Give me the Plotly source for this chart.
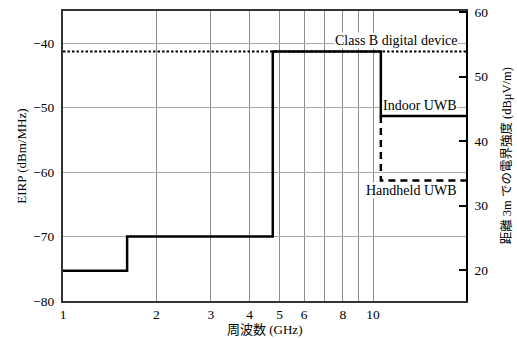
import plotly.graph_objects as go

# Band edges (GHz) and limit levels (EIRP, dBm/MHz)
band_edges_ghz = [1, 1.61, 4.75, 10.6, 20]
indoor_eirp = [-75.3, -70, -41.3, -51.3, -51.3]

handheld_freq_ghz = [10.6, 10.6, 20]
handheld_eirp = [-51.3, -61.3, -61.3]

classb_freq_ghz = [1, 20]
classb_eirp = [-41.3, -41.3]

x_tick_vals = [1, 2, 3, 4, 5, 6, 7, 8, 9, 10]
x_tick_text = ["1", "2", "3", "4", "5", "6", "", "8", "", "10"]
left_tick_vals = [-80, -70, -60, -50, -40]
right_tick_vals = [20, 30, 40, 50, 60]

# Field strength at 3 m: E (dBuV/m) = EIRP (dBm) + 95.2
FIELD_OFFSET = 95.2
EIRP_RANGE = [-80, -35]

SERIF = "Liberation Serif"
CJK = "Liberation Serif, Noto Sans CJK JP"

fig = go.Figure()

fig.add_trace(go.Scatter(
    x=classb_freq_ghz, y=classb_eirp, mode="lines",
    line=dict(color="black", width=2, dash="2.5px,2px"),
    showlegend=False, hoverinfo="skip"))

fig.add_trace(go.Scatter(
    x=handheld_freq_ghz, y=handheld_eirp, mode="lines",
    line=dict(color="black", width=2.5, dash="7px,5px"),
    showlegend=False, hoverinfo="skip"))

fig.add_trace(go.Scatter(
    x=band_edges_ghz, y=indoor_eirp, mode="lines",
    line=dict(color="black", width=2.5, shape="hv"),
    showlegend=False, hoverinfo="skip"))

# invisible trace to activate the right-hand axis
fig.add_trace(go.Scatter(
    x=[1], y=[40], yaxis="y2", mode="markers",
    marker=dict(opacity=0), showlegend=False, hoverinfo="skip"))

labels = [
    ("Class B digital device", -39.6),
    ("Indoor UWB", -49.6),
    ("Handheld UWB", -62.9),
]
for text, yv in labels:
    fig.add_annotation(
        x=0.98, xref="paper", y=yv, yref="y", text=text,
        xanchor="right", yanchor="middle", showarrow=False,
        bgcolor="white", borderpad=0,
        font=dict(family=SERIF, size=14, color="black"))

# axis titles placed as annotations
fig.add_annotation(
    x=-0.105, xref="paper", y=0.5, yref="paper", text="EIRP (dBm/MHz)",
    textangle=-90, showarrow=False, xanchor="center", yanchor="middle",
    font=dict(family=SERIF, size=13, color="black"))
fig.add_annotation(
    x=1.1, xref="paper", y=0.5, yref="paper", text="距離 3m での電界強度 (dBμV/m)",
    textangle=-90, showarrow=False, xanchor="center", yanchor="middle",
    font=dict(family=CJK, size=12.5, color="black"))
fig.add_annotation(
    x=0.5, xref="paper", y=-0.098, yref="paper", text="周波数 (GHz)",
    showarrow=False, xanchor="center", yanchor="middle",
    font=dict(family=CJK, size=13, color="black"))

fig.update_layout(
    width=517, height=338,
    margin=dict(l=63, r=51, t=11, b=37, autoexpand=False),
    paper_bgcolor="white", plot_bgcolor="white",
    font=dict(family=SERIF, size=13.5, color="black"),
    xaxis=dict(
        type="log", range=[0, 1.3], automargin=False,
        tickvals=x_tick_vals, ticktext=x_tick_text,
        showgrid=True, gridcolor="#8c8c8c", gridwidth=1,
        showline=True, linecolor="#333", linewidth=2, mirror=True,
        ticks="", zeroline=False,
    ),
    yaxis=dict(
        range=EIRP_RANGE, tickvals=left_tick_vals, automargin=False,
        showgrid=True, gridcolor="#aaa", gridwidth=1,
        showline=True, linecolor="#333", linewidth=2,
        ticks="", zeroline=False, ticklabelstandoff=4,
    ),
    yaxis2=dict(
        overlaying="y", side="right", automargin=False,
        range=[EIRP_RANGE[0] + FIELD_OFFSET, EIRP_RANGE[1] + FIELD_OFFSET],
        tickvals=right_tick_vals, showgrid=False, zeroline=False,
        showline=True, linecolor="black", linewidth=1.5,
        ticks="inside", ticklen=7, tickcolor="black", tickwidth=1.5,
        ticklabelstandoff=4,
    ),
)

fig.write_html("out.html")
